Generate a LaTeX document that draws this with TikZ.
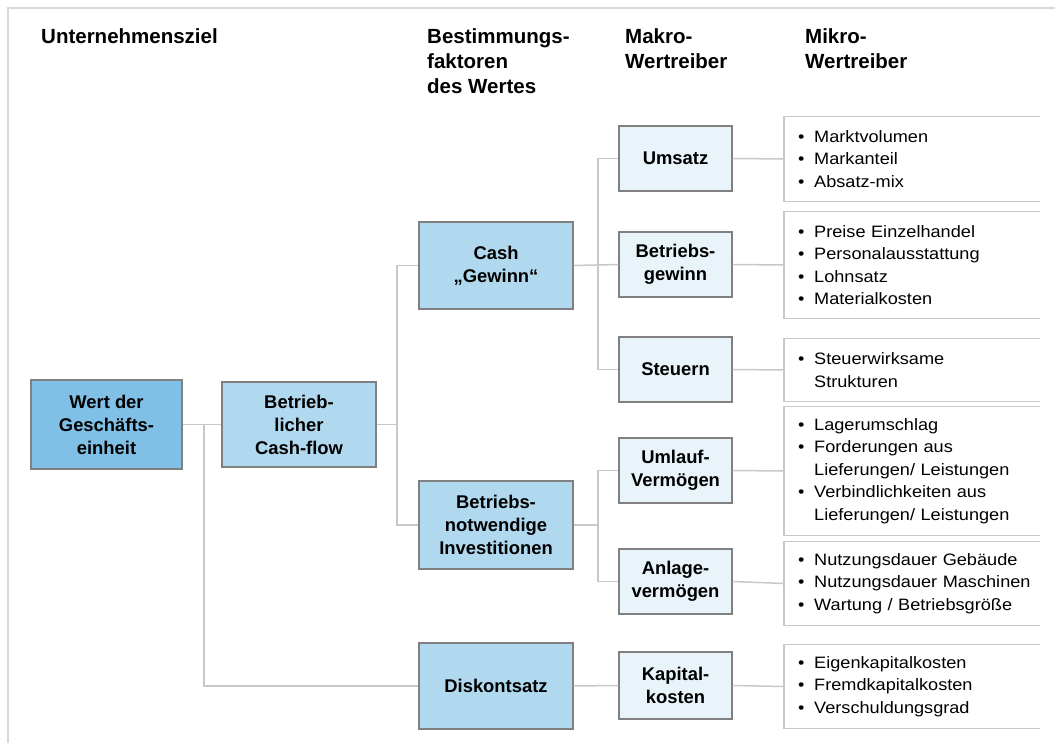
\documentclass[tikz,border=0pt]{standalone}
\usepackage{fontspec}
\setmainfont{Liberation Sans}
\newfontfamily\microfont[FakeStretch=1.1]{Liberation Sans}

\definecolor{framegray}{HTML}{D9D9D9}
\definecolor{linegray}{HTML}{C8C8C8}
\definecolor{boxborder}{HTML}{808080}
\definecolor{topblue}{HTML}{80C0E6}
\definecolor{midblue}{HTML}{B0D8EE}
\definecolor{paleblue}{HTML}{E8F4FA}

% bullet and hanging indent for the driver lists (left margin included)
\newcommand\mbul{\hspace*{14pt}\makebox[16pt][l]{•}}
\newcommand\mind{\hspace*{30pt}}

\tikzset{
  hdr/.style={anchor=base west, align=left, inner sep=0pt,
    font=\bfseries\fontsize{20.5}{25}\selectfont},
  box/.style={draw=boxborder, line width=1.2pt, align=center, inner sep=2pt,
    font=\bfseries\fontsize{18.4}{23}\selectfont},
  topbox/.style={box, fill=topblue, minimum width=151pt, minimum height=89pt},
  midbox/.style={box, fill=midblue, minimum width=154pt, minimum height=87pt},
  makrobox/.style={box, fill=paleblue, minimum width=113pt, minimum height=65pt},
  mikrobox/.style={anchor=west, align=left, inner sep=0pt,
    text width=256pt, font=\microfont\fontsize{16.5}{22.5}\selectfont},
  microedge/.style={draw=linegray, line width=1.2pt},
  link/.style={draw=linegray, line width=1.5pt},
}

\begin{document}
\begin{tikzpicture}[x=1pt, y=-1pt]
\useasboundingbox (0,0) rectangle (1055,743);

% outer frame (left and top edge)
\draw[framegray, line width=2pt] (8,743) -- (8,8) -- (1055,8);

% column headings (placed by the baseline of their last line)
\node[hdr] (hziel) at (41,44) {Unternehmensziel};
\node[hdr] (hbest) at (427,94) {Bestimmungs-\\faktoren\\des Wertes};
\node[hdr] (hmakro) at (625,69) {Makro-\\Wertreiber};
\node[hdr] (hmikro) at (805,69) {Mikro-\\Wertreiber};

% value and cash-flow level
\node[topbox] (wert) at (106.5,424.5) {Wert der\\Geschäfts-\\einheit};
\node[midbox, minimum height=85pt] (bcf) at (299,424.5) {Betrieb-\\licher\\Cash-flow};

% determinants of value
\node[midbox] (cash) at (496,265.5) {Cash\\„Gewinn“};
\node[midbox, minimum height=88pt] (invest) at (496,525) {Betriebs-\\notwendige\\Investitionen};
\node[midbox, minimum height=86pt] (disk) at (496,686) {Diskontsatz};

% macro value drivers
\node[makrobox] (umsatz) at (675.5,158.5) {Umsatz};
\node[makrobox] (bgew) at (675.5,264.5) {Betriebs-\\gewinn};
\node[makrobox] (steuern) at (675.5,369.5) {Steuern};
\node[makrobox] (umlauf) at (675.5,470.5) {Umlauf-\\Vermögen};
\node[makrobox] (anlage) at (675.5,581.5) {Anlage-\\vermögen};
\node[makrobox, minimum height=67pt] (kapital) at (675.5,685.5) {Kapital-\\kosten};

% micro value drivers
\node[mikrobox, minimum height=84pt] (m1) at (784,159)
  {\mbul Marktvolumen\\\mbul Markanteil\\\mbul Absatz-mix};
\node[mikrobox, minimum height=106pt] (m2) at (784,265)
  {\mbul Preise Einzelhandel\\\mbul Personalausstattung\\\mbul Lohnsatz\\\mbul Materialkosten};
\node[mikrobox, minimum height=62pt] (m3) at (784,370)
  {\mbul Steuerwirksame\\\mind Strukturen};
\node[mikrobox, minimum height=128pt] (m4) at (784,471)
  {\mbul Lagerumschlag\\\mbul Forderungen aus\\\mind Lieferungen/ Leistungen\\\mbul Verbindlichkeiten aus\\\mind Lieferungen/ Leistungen};
\node[mikrobox, minimum height=83pt] (m5) at (784,583.5)
  {\mbul Nutzungsdauer Gebäude\\\mbul Nutzungsdauer Maschinen\\\mbul Wartung / Betriebsgröße};
\node[mikrobox, minimum height=83pt] (m6) at (784,686.5)
  {\mbul Eigenkapitalkosten\\\mbul Fremdkapitalkosten\\\mbul Verschuldungsgrad};

\foreach \m in {m1,m2,m3,m4,m5,m6}
  \draw[microedge] (\m.north east) -- (\m.north west) -- (\m.south west) -- (\m.south east);

% junction points of the tree
\coordinate (j1) at (204,424.5);
\coordinate (j2) at (397,424.5);
\coordinate (j3) at (598,265.5);
\coordinate (j4) at (598,525);

% connectors
\draw[link] (wert.east) -- (bcf.west);
\draw[link] (j1) |- (disk.west);
\draw[link] (bcf.east) -- (j2);
\draw[link] (cash.west) -| (j2);
\draw[link] (invest.west) -| (j2);
\draw[link] (cash.east) -- (bgew.west);
\draw[link] (umsatz.west) -| (j3) |- (steuern.west);
\draw[link] (invest.east) -- (j4);
\draw[link] (umlauf.west) -| (j4) |- (anlage.west);
\draw[link] (disk.east) -- (kapital.west);

\draw[link] (umsatz.east) -- (m1.west);
\draw[link] (bgew.east) -- (m2.west);
\draw[link] (steuern.east) -- (m3.west);
\draw[link] (umlauf.east) -- (m4.west);
\draw[link] (anlage.east) -- (m5.west);
\draw[link] (kapital.east) -- (m6.west);
\end{tikzpicture}
\end{document}
